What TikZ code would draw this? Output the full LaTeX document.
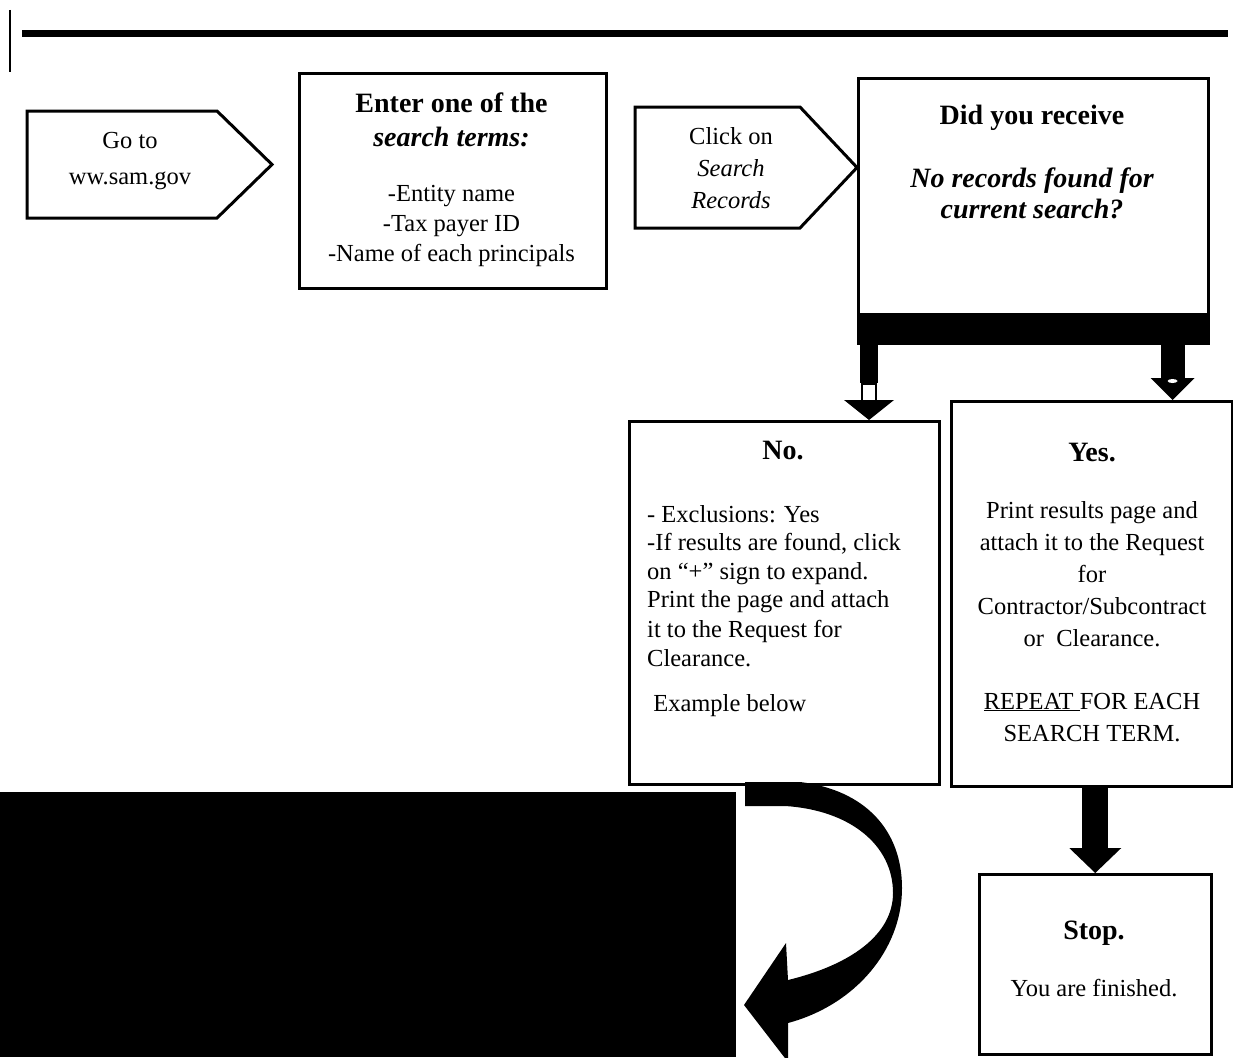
\documentclass[tikz,border=0pt]{standalone}
\usepackage{fontspec}
\setmainfont{Liberation Serif}
\usetikzlibrary{calc}
\tikzset{
  box/.style={draw,line width=2.5pt,inner sep=0pt,anchor=north west},
  txt/.style={inner sep=0pt,align=center,font=\fontsize{24.5}{30}\selectfont},
  line/.style={txt,text height=18pt,text depth=4pt},
  hd/.style={inner sep=0pt,align=center,font=\fontsize{28}{34}\selectfont\bfseries},
  pent/.style={line width=3pt,line join=miter}
}
\begin{document}
\begin{tikzpicture}[x=1pt,y=-1pt]
  \clip (0,0) rectangle (1233,1057);
  \draw[line width=1.5pt] (10,10) -- (10,72);
  \draw[line width=7pt] (22,33.5) -- (1228,33.5);

  % first step and search terms
  \draw[pent] (27,111) -- (217,111) -- (272,164.5) -- (217,218) -- (27,218) -- cycle;
  \node[txt,font=\fontsize{24.5}{36}\selectfont] (goto) at (130,161) {Go to\\ww.sam.gov};
  \node[box,minimum width=307pt,minimum height=215pt] (enter) at (298,72) {};
  \node[hd] (enterhd) at (451.5,120) {Enter one of the\\\textit{search terms:}};
  \node[txt] (terms) at (451.5,226) {-Entity name\\-Tax payer ID\\-Name of each principals};

  \draw[pent] (635,107) -- (800,107) -- (857,167.5) -- (800,228) -- (635,228) -- cycle;
  \node[txt,font=\fontsize{24.5}{32}\selectfont] (click) at (731,168) {Click on\\\textit{Search}\\\textit{Records}};

  % the question
  \node[box,minimum width=350pt,minimum height=265pt] (did) at (857,77) {};
  \fill ($(did.south west)+(0,-32)$) rectangle (did.south east);
  \node[hd] (didq) at (1032,118) {Did you receive};
  \node[hd,font=\fontsize{28}{31}\selectfont\bfseries\itshape] (nofound) at (1032,193) {No records found for\\current search?};

  % answers
  \node[box,minimum width=310pt,minimum height=363pt] (no) at (628,420) {};
  \node[hd] (nohd) at (783,451) {No.};
  \foreach \y/\t [count=\i] in {515/{- Exclusions: Yes},543/{-If results are found, click},
      572/{on “+” sign to expand.},600/{Print the page and attach},630/{it to the Request for},
      659/{Clearance.},704/{\ Example below}}
    \node[line,anchor=west] (no\i) at (647,\y) {\t};

  \node[box,minimum width=281pt,minimum height=385pt] (yes) at (950,400) {};
  \node[hd] (yeshd) at (1092,453) {Yes.};
  \foreach \y/\t [count=\i] in {511/{Print results page and},543/{attach it to the Request},
      575/{for},607/{Contractor/Subcontract},639/{or\ \ Clearance.},
      702/{\underline{REPEAT\ }FOR EACH},734/{SEARCH TERM.}}
    \node[line] (yes\i) at (1092,\y) {\t};

  \node[box,minimum width=232pt,minimum height=180pt] (stop) at (978,873) {};
  \node[hd] (stophd) at (1094,933) {Stop.};
  \node[txt] (stoptxt) at (1094,988) {You are finished.};

  % block arrows
  \path ($(did.south west)+(12,0)$) coordinate (ltop) (ltop |- no.north) coordinate (ltip);
  \fill ($(ltop)+(-9,0)$) rectangle ($(ltop)+(9,38)$);
  \draw[line width=2.5pt,fill=white] ($(ltop)+(-7,39)$) rectangle ($(ltop)+(7,57)$);
  \fill (ltip) -- ++(-25,-20) -- ++(50,0) -- cycle;

  \path ($(did.south east)+(-37,0)$) coordinate (rtop) (rtop |- yes.north) coordinate (rtip);
  \fill ($(rtop)+(-12,0)$) rectangle ($(rtop)+(12,38)$);
  \fill (rtip) -- ++(-22,-22) -- ++(44,0) -- cycle;
  \fill[white] ($(rtip)+(0,-19)$) ellipse (5 and 2);

  \path (stop.north |- yes.south) coordinate (stop0);
  \fill ($(stop0)+(-13,0)$) rectangle ($(stop.north)+(13,-25)$);
  \fill (stop.north) -- ++(-26,-25) -- ++(52,0) -- cycle;

  % example area and the curved arrow to it
  \fill (0,792) rectangle (736,1057);
  \fill (745,782) -- (800,782) .. controls (865,790) and (902,830) .. (902,888)
    .. controls (902,950) and (855,1005) .. (788,1023) -- (788,1062) -- (744,1005)
    -- (786,943) -- (788,980) .. controls (850,965) and (893,935) .. (893,893)
    .. controls (893,845) and (850,810) .. (785,806) -- (745,806) -- cycle;
\end{tikzpicture}
\end{document}
